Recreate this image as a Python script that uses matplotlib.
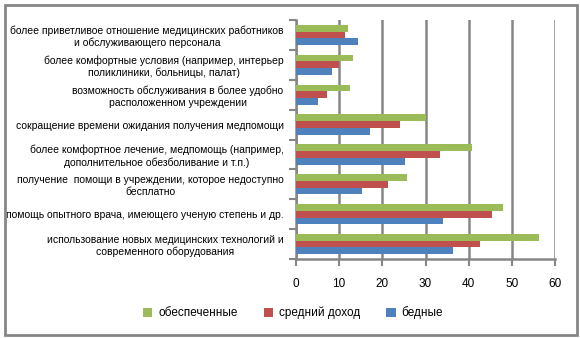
import matplotlib
matplotlib.use("Agg")
import matplotlib.pyplot as plt
import numpy as np
from matplotlib.patches import Rectangle

categories = [
    "более приветливое отношение медицинских работников\nи обслуживающего персонала",
    "более комфортные условия (например, интерьер\nполиклиники, больницы, палат)",
    "возможность обслуживания в более удобно\nрасположенном учреждении",
    "сокращение времени ожидания получения медпомощи",
    "более комфортное лечение, медпомощь (например,\nдополнительное обезболивание и т.п.)",
    "получение  помощи в учреждении, которое недоступно\nбесплатно",
    "помощь опытного врача, имеющего ученую степень и др.",
    "использование новых медицинских технологий и\nсовременного оборудования",
]
series_names = ["обеспеченные", "средний доход", "бедные"]
wealthy = [12.1, 13.3, 12.6, 30.1, 40.8, 25.7, 47.9, 56.3]
middle = [11.4, 10.0, 7.2, 24.1, 33.4, 21.4, 45.4, 42.6]
poor = [14.4, 8.4, 5.2, 17.2, 25.3, 15.3, 34.1, 36.4]
xticks = [0, 10, 20, 30, 40, 50, 60]

colors = ["#9BBB59", "#C0504D", "#4F81BD"]
grid_c = "#868686"

plt.rcParams['font.family'] = ['Liberation Sans', 'DejaVu Sans']

fig = plt.figure(figsize=(5.8, 3.38), dpi=100)
ax = fig.add_axes([296/580, 1-259/338, (555-296)/580, (259-20)/338])

n = len(categories)
pos = np.arange(n)
h = 0.225
for i, (vals, c, name) in enumerate(zip([wealthy, middle, poor], colors, series_names)):
    ax.barh(pos + (i - 1) * h, vals, height=h, color=c, label=name, zorder=3)

ax.set_ylim(n - 0.5, -0.5)
ax.set_xlim(0, 60)
ax.set_xticks(xticks)
ax.set_xticklabels([str(t) for t in xticks], fontsize=8.5)
ax.set_yticks(pos)
ax.set_yticklabels(categories, fontsize=7.5, ha='right', multialignment='center')
ax.tick_params(axis='y', length=0, pad=9)
ax.set_yticks(np.arange(n + 1) - 0.5, minor=True)
ax.tick_params(axis='y', which='minor', length=5, width=1.5, color=grid_c)
ax.tick_params(axis='x', length=5, width=1.5, color=grid_c, pad=9)
ax.grid(axis='x', color=grid_c, linewidth=1.8, zorder=0)
for s in ['top', 'right']:
    ax.spines[s].set_visible(False)
for s in ['left', 'bottom']:
    ax.spines[s].set_color(grid_c)
    ax.spines[s].set_linewidth(1.8)

fig.legend(loc='center', bbox_to_anchor=(293/580, 1-313/338), ncol=3, frameon=False,
           fontsize=8.5, handlelength=0.8, handleheight=0.8, handletextpad=0.5,
           columnspacing=2.2)

fig.patches.append(Rectangle((5/580, 1-335/338), 572/580, 330/338, transform=fig.transFigure,
                             fill=False, edgecolor=grid_c, linewidth=2))

fig.savefig("out.png", dpi=100)
